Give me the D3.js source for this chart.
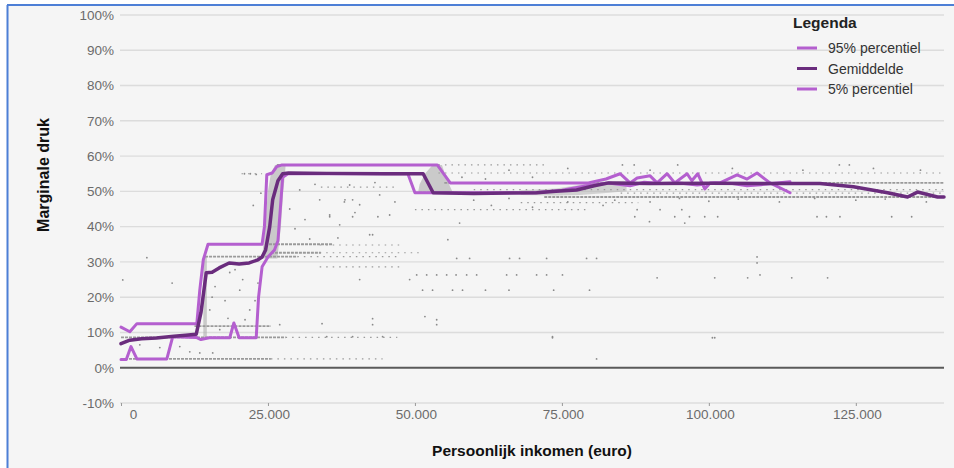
<!DOCTYPE html>
<html>
<head>
<meta charset="utf-8">
<script src="https://cdn.jsdelivr.net/npm/d3@7"></script>
<style>
  body { margin: 0; background: #fff; }
  svg { display: block; font-family: "Liberation Sans", Arial, sans-serif; }
</style>
</head>
<body>
<div id="chart"></div>
<script>
// income in thousands of euro, value in percent
const yTicks = [-10, 0, 10, 20, 30, 40, 50, 60, 70, 80, 90, 100];
const xTicks = [0, 25, 50, 75, 100, 125];
const legendNames = ["95% percentiel", "Gemiddelde", "5% percentiel"];

const p95Line = [[0,11.5],[1.5,10.2],[2.7,12.5],[12.9,12.5],[13.4,22],[14.0,30.6],[14.8,35],[24.0,35],[24.4,40],[24.8,54.7],[25.7,55.2],[26.5,57],[27.4,57.5],[53.8,57.5],[56.0,52.4],[79.5,52.4],[82.5,53.5],[84.9,55],[86.6,52.4],[87.8,53.8],[90.0,54.4],[91.2,52.4],[92.9,55],[94.2,52.4],[96.3,55],[97.1,53],[98.1,55],[99.3,50.7],[100.2,52.4],[101.9,52.4],[104.8,54.7],[106.5,53.5],[108.2,55.2],[110.4,52.4],[113.8,49.6]];

const meanLine = [[0,6.8],[1.5,7.8],[3.5,8.2],[6,8.4],[9,8.9],[11,9.2],[12.8,9.5],[13.6,15.6],[14.5,26.9],[15.5,27.1],[16.7,28.3],[18.4,29.7],[20.1,29.4],[21.8,29.7],[23.3,30.6],[24.0,31.4],[24.6,33.4],[25.3,40],[25.8,47.6],[26.7,53],[27.5,55],[28.5,55.2],[35,55.1],[45,55],[51.4,55],[53.1,49.6],[60,49.4],[70.7,49.6],[74,50],[77.5,50.4],[80.5,51.6],[83,52.4],[90,52.2],[100,52.3],[110,52.2],[118.9,52.2],[124.6,51.3],[130.4,49.6],[133.8,48.4],[135.5,49.8],[138.9,48.4],[140,48.4]];

const p5Line = [[0,2.3],[0.9,2.3],[1.7,6],[2.7,2.5],[7.8,2.5],[8.8,8.8],[12.8,8.6],[13.6,8.0],[15,8.5],[18.5,8.5],[19.2,12.7],[20.1,8.5],[23.0,8.5],[23.4,20],[24.0,28.6],[25.0,31.4],[26.1,33.4],[26.7,36],[27.5,54],[28.4,55],[48.8,55],[50.0,49.6],[70.5,49.6],[75,50.3],[79,51.5],[82.9,52.4],[86.6,51.6],[89,52.6],[92,52.2],[95,52.4],[98,51.8],[101,52.4],[104,52.2],[106.5,51.6],[108.9,51.9],[111.6,52.4],[113.8,52.7]];

// rows of observations that pile up on one rate: [from, to, rate]
const denseRows = [[0,25.5,2.5],[0,28,8.6],[12.5,25.5,11.8],[14.3,30,31.5],[24.5,36,35],[25.5,34,32.6],[27.5,49,55.2],[26.5,54,57.5],[50,71,49.6],[55,140,52.4],[72,140,48.4]];
const sparseRows = [[28,47,8.6],[25.5,44.5,2.5],[30,47,31.5],[33.8,51,32.6],[33.8,48,34.8],[33.8,47.4,28.6],[34,47,51.2],[50,79,44.8],[54,140,55.2],[54,72,57.5],[68,88,46.8],[60,140,50.5],[85,140,49.5],[20.5,24,55]];

// steep clouds: [rate, from, to]
const cliffCloudA = [[31,24.0,26.6],[40,24.5,27.2],[50,25.0,27.6],[55,25.5,27.9],[57.5,26.2,28.0]];
const cliffCloudB = [[49.5,50.5,56.5],[52,50.8,55.8],[55,51.7,55.1],[57.5,53,54.6]];
const cliffCloudC = [[8.5,14.0,14.6],[31.5,14.0,14.6]];
// rising cloud: [income, low, high]
const riseCloud = [[68,49,50.3],[74,48.8,50.8],[78,49,51.8],[82,49.5,52.8],[86,50,53]];

const scatter = [[0.3,24.9],[4.4,31.2],[8.7,24],[3.2,6.5],[6.6,5.7],[10,6],[11.7,4.5],[13.4,4.2],[15.6,4.2],
  [16.0,23],[17.7,19],[18.5,27],[20.2,22],[21.9,16.4],[15.1,16.4],[16.8,10.8],[19.4,27.8],[21.1,13.6],[22.8,19],[15.5,20],[18.2,14],[20.7,25],[23.3,24],[16.5,28],
  [21,55],[22,55],[23,54.8],[23.8,49.5],[22.5,46],
  [30.4,50.4],[33.8,47.6],[35.5,43.3],[38.9,51.8],[40.6,46.2],[44,49],[29.6,39.4],[32.1,36.5],[37.2,40.5],[42.3,37.7],[45.7,43.3],[28.7,45],[31.3,42],[33,52],[38,47],[39.8,44],[43.2,52.5],[46.6,47],
  [38.1,47.6],[39.4,47.6],[35.5,42.8],[39.4,42.8],[43.7,42.8],[57.6,41],[42.8,37.7],[55.6,36.3],[36.9,36.8],
  [57.1,31],[59.3,31],[66.1,31],[67.8,31],[72.4,31],[79.2,31],[80.9,31],
  [50.3,26.3],[52,26.3],[53.7,26.3],[55.4,26.3],[57,26.3],[58.8,26.3],[60.5,26.3],[65.6,26.3],[67.3,26.3],[70.7,26.3],[72.4,26.3],[75.1,26.3],
  [40.6,25],[49.1,25],
  [51.3,22],[53,22],[56.4,22],[58.1,22],[62,22],[66,22],[73.6,22],[79.7,22],
  [51.7,14.5],[42.8,13.9],[53.7,13.6],
  [35,8.8],[39.4,8.8],[44.5,8.8],[73.4,8.8],
  [27,12.2],[34.2,12.5],[42.8,12.2],[53.7,12.2],
  [73.4,8.5],[100.6,8.5],[80.9,2.5],
  [85.3,57.5],[87.3,57.5],[94.7,57.5],[122.2,57.5],[123.9,57.5],
  [87.8,44.8],[91.7,44.8],[95.4,44.8],
  [87.4,42.8],[94.2,42.8],[96.7,42.8],[99.3,42.8],[101.5,42.8],[118.4,42.8],[120,42.8],[122.3,42.8],[131.1,42.8],[134.5,42.8],
  [89.9,41.4],[95.9,41],
  [108.2,31.4],[108.2,29.7],[108.7,26.3],
  [91.2,25.5],[101,25.5],[106.6,25.5],[114.1,25.5],[120.2,25.5],
  [101,8.5],
  [60,47.5],[63,46],[66,48],[70,45.5],[76,47],[82,46],[84,47.5],[90,47],[95,48],[100,47.2],[105,47.8],[112,47],[118,48],[125,47.5],[130,47.8],[137,47],
  [58,54],[62,53.5],[66,56],[70,54],[76,56.5],[90,56],[104,56.5],[116,56],[128,56.5],[136,56]];

const W = 954, H = 468;
const svg = d3.select('#chart').append('svg').attr('width', W).attr('height', H);

// framed picture
svg.append('rect').attr('x', 7).attr('y', 5).attr('width', W - 7).attr('height', H - 5).attr('fill', '#f5f5f5');
svg.append('line').attr('x1', 7.5).attr('x2', 7.5).attr('y1', 5).attr('y2', H).attr('stroke', '#4d7fd6').attr('stroke-width', 2);
svg.append('line').attr('x1', 7).attr('x2', W).attr('y1', 5).attr('y2', 5).attr('stroke', '#4d7fd6').attr('stroke-width', 2);

var x = d3.scaleLinear().domain([0, 140]).range([121, 944]);
var y = d3.scaleLinear().domain([-10, 100]).range([403, 15]);
const nl = d3.formatLocale({ decimal: ',', thousands: '.', grouping: [3], currency: ['€', ''] });
const fmt = nl.format(',');

// grid
svg.append('g').selectAll('line').data(yTicks).enter().append('line')
  .attr('x1', 120).attr('x2', 944)
  .attr('y1', d => y(d)).attr('y2', d => y(d))
  .attr('stroke', d => d === 0 ? '#5a5a5a' : '#dcdcdc')
  .attr('stroke-width', d => d === 0 ? 2 : 1.4);

// y axis labels
var yAxis = svg.append('g').attr('transform', 'translate(118,0)')
  .call(d3.axisLeft(y).tickValues(yTicks).tickSize(0).tickPadding(4).tickFormat(d => d + '%'));
yAxis.select('.domain').remove();
yAxis.selectAll('text').attr('fill', '#6b6b6b').style('font-size', '13.5px').style('font-family', '"Liberation Sans", Arial, sans-serif');

// x axis labels
var xAxis = svg.append('g').attr('transform', 'translate(0,403)')
  .call(d3.axisBottom(x).tickValues(xTicks).tickSize(3).tickPadding(3).tickFormat(d => fmt(d * 1000)));
xAxis.select('.domain').remove();
xAxis.selectAll('line').attr('stroke', '#999');
xAxis.selectAll('text').attr('fill', '#6b6b6b').style('font-size', '13.5px').style('font-family', '"Liberation Sans", Arial, sans-serif')
  .attr('dx', d => d === 0 ? 12 : 1);

// observations
const dots = svg.append('g');
const cloudV = d3.area().y(d => y(d[0])).x0(d => x(d[1])).x1(d => x(d[2]));
[cliffCloudA, cliffCloudB, cliffCloudC].forEach(c => {
  dots.append('path').datum(c).attr('d', cloudV).attr('fill', '#adadad').attr('opacity', 0.6);
});
dots.append('path').datum(riseCloud)
  .attr('d', d3.area().x(d => x(d[0])).y0(d => y(d[1])).y1(d => y(d[2])))
  .attr('fill', '#adadad').attr('opacity', 0.5);

dots.selectAll('.dense').data(denseRows).enter().append('line').attr('class', 'dense')
  .attr('x1', d => x(d[0])).attr('x2', d => x(d[1]))
  .attr('y1', d => y(d[2])).attr('y2', d => y(d[2]))
  .attr('stroke', '#9a9a9a').attr('stroke-width', 1.8).attr('stroke-dasharray', '3 1');
dots.selectAll('.sparse').data(sparseRows).enter().append('line').attr('class', 'sparse')
  .attr('x1', d => x(d[0])).attr('x2', d => x(d[1]))
  .attr('y1', d => y(d[2])).attr('y2', d => y(d[2]))
  .attr('stroke', '#9a9a9a').attr('stroke-width', 1.2).attr('stroke-dasharray', '1.5 5');
dots.selectAll('circle').data(scatter).enter().append('circle')
  .attr('cx', d => x(d[0])).attr('cy', d => y(d[1])).attr('r', 0.9)
  .attr('fill', '#8a8a8a');

// lines
const line = d3.line().x(d => x(d[0])).y(d => y(d[1]));
const light = '#b45fcf', dark = '#6a2c7d';
[[p95Line, light, 3], [p5Line, light, 3], [meanLine, dark, 3.5]].forEach(s => {
  svg.append('path').datum(s[0]).attr('d', line)
    .attr('fill', 'none').attr('stroke', s[1]).attr('stroke-width', s[2])
    .attr('stroke-linejoin', 'round').attr('stroke-linecap', 'round');
});

// axis titles
svg.append('text').attr('x', 532).attr('y', 456).attr('text-anchor', 'middle')
  .style('font-size', '15.5px').style('font-weight', 'bold').attr('fill', '#111')
  .text('Persoonlijk inkomen (euro)');
svg.append('text').attr('transform', 'translate(49,175) rotate(-90)').attr('text-anchor', 'middle')
  .style('font-size', '16px').style('font-weight', 'bold').style('font-family', '"Liberation Sans Narrow", "Arial Narrow", sans-serif')
  .attr('fill', '#111').text('Marginale druk');

// legend
const lg = svg.append('g').attr('transform', 'translate(793,0)');
lg.append('text').attr('x', 0).attr('y', 28).style('font-size', '15.5px').style('font-weight', 'bold').attr('fill', '#222').text('Legenda');
const legendColors = [light, dark, light];
lg.selectAll('.item').data(legendNames).enter().append('g').attr('class', 'item')
  .attr('transform', (d, i) => 'translate(0,' + (48 + i * 20.5) + ')')
  .each(function (d, i) {
    const g = d3.select(this);
    g.append('line').attr('x1', 4).attr('x2', 24).attr('stroke', legendColors[i]).attr('stroke-width', 3);
    g.append('text').attr('x', 35).attr('y', 5).style('font-size', '14px').attr('fill', '#333').text(d);
  });
</script>
</body>
</html>
